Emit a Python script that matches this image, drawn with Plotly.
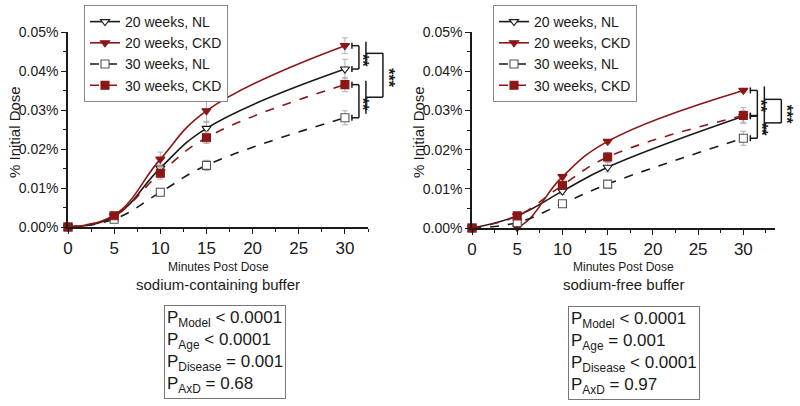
import plotly.graph_objects as go

# ---------------- data ----------------
minutes = [0, 5, 10, 15, 30]
series_names = ["20 weeks, NL", "20 weeks, CKD", "30 weeks, NL", "30 weeks, CKD"]

# sodium-containing buffer (% initial dose)
na_20_nl = [0, 0.0027, 0.0151, 0.0253, 0.0405]
na_20_ckd = [0, 0.0030, 0.0174, 0.0298, 0.0465]
na_30_nl = [0, 0.0020, 0.0089, 0.0158, 0.0280]
na_30_ckd = [0, 0.0029, 0.0138, 0.0229, 0.0365]
na_20_nl_err = [0, 0.0004, 0.0010, 0.0018, 0.0025]
na_20_ckd_err = [0, 0.0004, 0.0018, 0.0030, 0.0020]
na_30_nl_err = [0, 0.0003, 0.0010, 0.0013, 0.0018]
na_30_ckd_err = [0, 0.0004, 0.0015, 0.0015, 0.0018]

# sodium-free buffer
nf_20_nl = [0, 0.0031, 0.0094, 0.0155, 0.0285]
nf_20_ckd = [0, 0.0001, 0.0131, 0.0221, 0.0351]
nf_30_nl = [0, 0.0014, 0.0062, 0.0112, 0.0229]
nf_30_ckd = [0, 0.0031, 0.0109, 0.0181, 0.0287]
nf_20_nl_err = [0, 0.0003, 0.0008, 0.0012, 0.0015]
nf_20_ckd_err = [0, 0.0002, 0.0006, 0.0005, 0.0005]
nf_30_nl_err = [0, 0.0007, 0.0006, 0.0006, 0.0018]
nf_30_ckd_err = [0, 0.0004, 0.0008, 0.0012, 0.0020]

x_ticks = [0, 5, 10, 15, 20, 25, 30]
y_ticks = [0, 0.01, 0.02, 0.03, 0.04, 0.05]
y_ticklabels = ["0.00%", "0.01%", "0.02%", "0.03%", "0.04%", "0.05%"]

panel_titles = ["sodium-containing buffer", "sodium-free buffer"]
x_title = "Minutes Post Dose"
y_title = "% Initial Dose"
sig_pair = "**"
sig_group = "***"
pvals_left = [("Model", "&lt; 0.0001"), ("Age", "&lt; 0.0001"), ("Disease", "= 0.001"), ("AxD", "= 0.68")]
pvals_right = [("Model", "&lt; 0.0001"), ("Age", "= 0.001"), ("Disease", "&lt; 0.0001"), ("AxD", "= 0.97")]

# ---------------- layout geometry ----------------
W, H = 800, 406
FONT = "Liberation Sans, Arial, sans-serif"
RED = "#8c1616"
BLK = "#1a1a1a"
GREY_ERR = "#b0b0b0"

panels = [
    dict(x0=68, x1=368, xmax=32.5, top=32, bot=227),
    dict(x0=472, x1=775, xmax=33.5, top=32, bot=228),
]

styles = [
    dict(color=BLK, dash="solid", symbol="triangle-down", fill="white", mline=BLK),
    dict(color=RED, dash="solid", symbol="triangle-down", fill=RED, mline=RED),
    dict(color=BLK, dash="dash", symbol="square", fill="white", mline="#555555"),
    dict(color=RED, dash="dash", symbol="square", fill=RED, mline=RED),
]

fig = go.Figure()

data_sets = [
    ([na_20_nl, na_20_ckd, na_30_nl, na_30_ckd],
     [na_20_nl_err, na_20_ckd_err, na_30_nl_err, na_30_ckd_err]),
    ([nf_20_nl, nf_20_ckd, nf_30_nl, nf_30_ckd],
     [nf_20_nl_err, nf_20_ckd_err, nf_30_nl_err, nf_30_ckd_err]),
]

for p, (vals, errs) in enumerate(data_sets):
    xa = "x" if p == 0 else "x2"
    ya = "y" if p == 0 else "y2"
    lg = "legend" if p == 0 else "legend2"
    for i, (v, e) in enumerate(zip(vals, errs)):
        s = styles[i]
        fig.add_trace(go.Scatter(
            x=minutes, y=v, name=series_names[i], mode="lines+markers",
            xaxis=xa, yaxis=ya, legend=lg,
            line=dict(color=s["color"], dash=s["dash"], width=1.6, shape="spline", smoothing=1.2),
            marker=dict(symbol=s["symbol"], size=8, color=s["fill"],
                        line=dict(color=s["mline"], width=1.1)),
            error_y=dict(type="data", array=e, color=GREY_ERR, thickness=1, width=3),
            cliponaxis=False,
        ))

axis_common = dict(
    showline=True, linecolor=BLK, linewidth=1.5, ticks="outside", ticklen=5,
    tickwidth=1.2, tickcolor=BLK, showgrid=False, zeroline=False,
    automargin=False, mirror=False,
)

for p, g in enumerate(panels):
    sfx = "" if p == 0 else "2"
    fig.update_layout(**{
        "xaxis" + sfx: dict(
            axis_common, domain=[g["x0"] / W, g["x1"] / W], range=[0, g["xmax"]],
            tickvals=x_ticks, tickfont=dict(size=17, color=BLK, family=FONT),
            anchor="y" + sfx,
            minor=dict(ticks="outside", ticklen=3, tickcolor=BLK, dtick=2.5, tick0=0),
        ),
        "yaxis" + sfx: dict(
            axis_common, domain=[1 - g["bot"] / H, 1 - g["top"] / H], range=[0, 0.05],
            tickvals=y_ticks, ticktext=y_ticklabels,
            tickfont=dict(size=14, color=BLK, family=FONT), anchor="x" + sfx,
            minor=dict(ticks="outside", ticklen=3, tickcolor=BLK, dtick=0.005, tick0=0),
        ),
    })

# legends
legend_common = dict(
    bgcolor="white", bordercolor="#888888", borderwidth=1,
    font=dict(size=14, color=BLK, family=FONT), xanchor="left", yanchor="top",
    tracegroupgap=0,
)
fig.update_layout(
    legend=dict(legend_common, x=84 / W, y=1 - 5 / H),
    legend2=dict(legend_common, x=493 / W, y=1 - 5 / H),
)

annotations = []
shapes = []


def px_x(g, xv, off=0):
    return (g["x0"] + xv / g["xmax"] * (g["x1"] - g["x0"]) + off) / W


def px_y_of_val(g, v):
    return g["bot"] - v / 0.05 * (g["bot"] - g["top"])


def paper_y(ypx):
    return 1 - ypx / H


def line(x0, y0, x1, y1):
    shapes.append(dict(type="line", xref="paper", yref="paper", x0=x0, y0=y0, x1=x1, y1=y1,
                       line=dict(color=BLK, width=1.5)))


for p, g in enumerate(panels):
    vals = data_sets[p][0]
    cx = (g["x0"] + g["x1"]) / 2 / W
    annotations.append(dict(text=x_title, xref="paper", yref="paper", x=cx, y=paper_y(267),
                            showarrow=False, font=dict(size=12, color=BLK, family=FONT),
                            xanchor="center", yanchor="middle"))
    annotations.append(dict(text=panel_titles[p], xref="paper", yref="paper", x=cx, y=paper_y(284),
                            showarrow=False, font=dict(size=15, color=BLK, family=FONT),
                            xanchor="center", yanchor="middle"))
    annotations.append(dict(text=y_title, xref="paper", yref="paper",
                            x=(g["x0"] - 54) / W, y=paper_y(132), textangle=-90,
                            showarrow=False, font=dict(size=15, color=BLK, family=FONT),
                            xanchor="center", yanchor="middle"))
    # significance brackets at x = 30
    pairs = [(vals[1][-1], vals[0][-1]), (vals[3][-1], vals[2][-1])]
    bar_mids = []
    for (va, vb) in pairs:
        ya_, yb_ = px_y_of_val(g, max(va, vb)), px_y_of_val(g, min(va, vb))
        xa0, xa1 = px_x(g, 30, 7), px_x(g, 30, 14)
        line(xa0, paper_y(ya_), xa1, paper_y(ya_))
        line(xa0, paper_y(yb_), xa1, paper_y(yb_))
        line(xa1, paper_y(ya_), xa1, paper_y(yb_))
        line(xa0, paper_y(ya_ - 3), xa0, paper_y(ya_ + 3))
        line(xa0, paper_y(yb_ - 3), xa0, paper_y(yb_ + 3))
        xb = px_x(g, 30, 21)
        t, b = ya_ - 4, yb_ - 4
        line(xb, paper_y(t), xb, paper_y(b))
        bar_mids.append((t + b) / 2)
        annotations.append(dict(text="<b>" + sig_pair + "</b>", xref="paper", yref="paper",
                                x=px_x(g, 30, 17.5), y=paper_y((ya_ + yb_) / 2 + 3), textangle=90,
                                showarrow=False, font=dict(size=16, color=BLK, family=FONT),
                                xanchor="center", yanchor="middle"))
    xb, xr = px_x(g, 30, 21), px_x(g, 30, 38)
    line(xb, paper_y(bar_mids[0]), xr, paper_y(bar_mids[0]))
    line(xb, paper_y(bar_mids[1]), xr, paper_y(bar_mids[1]))
    line(xr, paper_y(bar_mids[0]), xr, paper_y(bar_mids[1]))
    annotations.append(dict(text="<b>" + sig_group + "</b>", xref="paper", yref="paper",
                            x=px_x(g, 30, 44), y=paper_y((bar_mids[0] + bar_mids[1]) / 2 + 3),
                            textangle=90, showarrow=False,
                            font=dict(size=16, color=BLK, family=FONT),
                            xanchor="center", yanchor="middle"))

# P-value boxes
for p, (pv, bx, by) in enumerate([(pvals_left, 164, 305), (pvals_right, 568, 306)]):
    txt = "<br>".join(f"P<sub>{k}</sub> {v}" for k, v in pv)
    annotations.append(dict(text=txt, xref="paper", yref="paper", x=bx / W, y=paper_y(by),
                            xanchor="left", yanchor="top", align="left", showarrow=False,
                            font=dict(size=17, color=BLK, family=FONT),
                            bordercolor="#777777", borderwidth=1, borderpad=2,
                            bgcolor="white"))

fig.update_layout(
    width=W, height=H, margin=dict(l=0, r=0, t=0, b=0),
    paper_bgcolor="white", plot_bgcolor="white",
    font=dict(family=FONT, color=BLK),
    annotations=annotations, shapes=shapes, showlegend=True,
)

fig.write_html("out.html", config={"displayModeBar": False},
               post_script="document.body.style.margin='0px';")
